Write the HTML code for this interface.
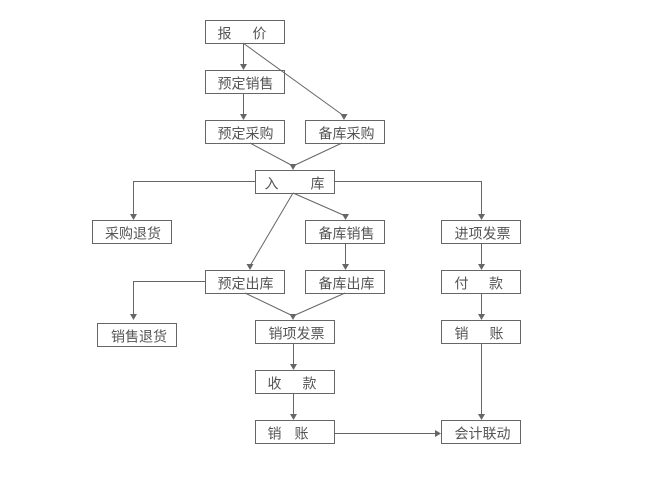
<!DOCTYPE html>
<html><head><meta charset="utf-8"><style>
html,body{margin:0;padding:0;background:#fff;}
svg{display:block;}
text{font-family:"Liberation Sans","Noto Sans CJK SC",sans-serif;font-size:14px;fill:#555;}
</style></head><body>
<svg width="660" height="500" viewBox="0 0 660 500" xmlns="http://www.w3.org/2000/svg">
<g fill="none" stroke="#666" stroke-width="1">
<rect x="205.5" y="20.5" width="79" height="23"/>
<rect x="205.5" y="70.5" width="79" height="23"/>
<rect x="205.5" y="120.5" width="79" height="23"/>
<rect x="305.5" y="120.5" width="79" height="23"/>
<rect x="255.5" y="170.5" width="79" height="23"/>
<rect x="92.5" y="220.5" width="79" height="23"/>
<rect x="305.5" y="220.5" width="79" height="23"/>
<rect x="441.5" y="220.5" width="79" height="23"/>
<rect x="205.5" y="270.5" width="79" height="23"/>
<rect x="305.5" y="270.5" width="79" height="23"/>
<rect x="441.5" y="270.5" width="79" height="23"/>
<rect x="97.5" y="323.5" width="79" height="23"/>
<rect x="255.5" y="320.5" width="79" height="23"/>
<rect x="441.5" y="320.5" width="79" height="23"/>
<rect x="255.5" y="370.5" width="79" height="23"/>
<rect x="255.5" y="420.5" width="79" height="23"/>
<rect x="441.5" y="420.5" width="79" height="23"/>

<path d="M243.5 43V65"/>
<path d="M243 43L344 116"/>
<path d="M243.5 93V115"/>
<path d="M250 143L293 166M342 143L293 166"/>
<path d="M255 181.5H133.5V215"/>
<path d="M334 181.5H481.5V215"/>
<path d="M293 193L345.5 216M293 193L250 266"/>
<path d="M345.5 243V265"/>
<path d="M481.5 243V265M481.5 293V315M481.5 343V415"/>
<path d="M205 281.5H133.5V315"/>
<path d="M245 293L293 316M345 293L293 316"/>
<path d="M293.5 343V365M293.5 393V415"/>
<path d="M334 433.5H436"/>
</g>
<g fill="#666">
<polygon points="240,64 247,64 243.5,70"/>
<polygon points="340.5,114 347.5,114 344,120"/>
<polygon points="240,114 247,114 243.5,120"/>
<polygon points="289.5,164 296.5,164 293,170"/>
<polygon points="130,214 137,214 133.5,220"/>
<polygon points="478,214 485,214 481.5,220"/>
<polygon points="342,214 349,214 345.5,220"/>
<polygon points="246.5,264 253.5,264 250,270"/>
<polygon points="342,264 349,264 345.5,270"/>
<polygon points="478,264 485,264 481.5,270"/>
<polygon points="478,314 485,314 481.5,320"/>
<polygon points="478,414 485,414 481.5,420"/>
<polygon points="130,314 137,314 133.5,320"/>
<polygon points="289.5,314 296.5,314 293,320"/>
<polygon points="290,364 297,364 293.5,370"/>
<polygon points="290,414 297,414 293.5,420"/>
<polygon points="435,430 435,437 441,433.5"/>
</g>
<g>
<text x="217.5" y="38.5">报</text><text x="252.5" y="38.5">价</text>
<text x="217.5" y="88.5">预定销售</text>
<text x="217.5" y="138.5">预定采购</text>
<text x="318.5" y="138.5">备库采购</text>
<text x="264.5" y="188.5">入</text><text x="310.5" y="188.5">库</text>
<text x="105" y="238.5">采购退货</text>
<text x="318.5" y="238.5">备库销售</text>
<text x="454.5" y="238.5">进项发票</text>
<text x="217.5" y="288.5">预定出库</text>
<text x="318.5" y="288.5">备库出库</text>
<text x="454.5" y="288.5">付</text><text x="489" y="288.5">款</text>
<text x="111" y="341.5">销售退货</text>
<text x="268.5" y="338.5">销项发票</text>
<text x="454.5" y="338.5">销</text><text x="489.5" y="338.5">账</text>
<text x="267.5" y="388.5">收</text><text x="302.5" y="388.5">款</text>
<text x="267.5" y="438.5">销</text><text x="294.5" y="438.5">账</text>
<text x="454.5" y="438.5">会计联动</text>
</g>
</svg>
</body></html>
